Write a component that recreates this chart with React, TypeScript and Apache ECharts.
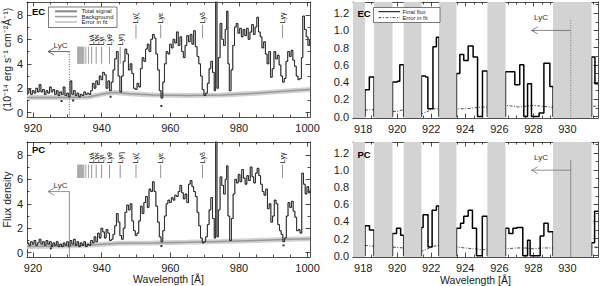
import React, { useEffect, useRef } from "react";
import * as echarts from "echarts";

const FONT = "Liberation Sans, Arial, Helvetica, sans-serif";
const TEXT = "#1a1a1a";
const AXIS = "#222";

// ---------- Left panels: full spectra (wavelength Å, flux) ----------
const ecSpectrum: [number, number][] = [
  [918.3, 1.6], [918.8, 1.9], [919.3, 1.5], [919.8, 1.8], [920.3, 1.6], [920.8, 2.0], [921.3, 1.7], [921.8, 2.3],
  [922.3, 1.7], [922.8, 1.9], [923.3, 1.5], [923.8, 1.8], [924.3, 1.6], [924.8, 2.1], [925.3, 1.7], [925.8, 1.9],
  [926.3, 1.5], [926.8, 1.8], [927.3, 1.4], [927.8, 1.7], [928.3, 1.5], [928.8, 2.1], [929.3, 1.4], [929.8, 1.6],
  [930.3, 1.3], [930.8, 2.6], [931.3, 1.5], [931.8, 1.8], [932.3, 1.4], [932.8, 1.6], [933.3, 1.3], [933.8, 1.5],
  [934.3, 1.4], [934.8, 1.7], [935.3, 1.5], [935.8, 1.6], [936.3, 1.5], [936.8, 1.8], [937.3, 2.4], [937.8, 2.0],
  [938.3, 2.6], [938.8, 2.3], [939.3, 3.0], [939.8, 2.7], [940.3, 3.3], [940.8, 3.1], [941.3, 2.0], [941.8, 2.6],
  [942.3, 1.8], [942.8, 2.5], [943.3, 3.5], [943.8, 4.4], [944.3, 5.0], [944.8, 3.0], [945.3, 1.7], [945.8, 3.0],
  [946.3, 4.2], [946.8, 5.2], [947.3, 4.8], [947.8, 3.5], [948.3, 4.0], [948.8, 3.2], [949.3, 2.0], [949.8, 1.9],
  [950.3, 2.4], [950.8, 2.1], [951.3, 3.6], [951.8, 4.5], [952.3, 4.2], [952.8, 5.2], [953.3, 5.6], [953.8, 5.0],
  [954.3, 6.0], [954.8, 6.4], [955.3, 6.1], [955.8, 4.8], [956.3, 3.5], [956.8, 1.8], [957.3, 1.2], [957.8, 2.5],
  [958.3, 4.0], [958.8, 5.0], [959.3, 4.8], [959.8, 5.6], [960.3, 5.3], [960.8, 6.0], [961.3, 5.7], [961.8, 6.6],
  [962.3, 5.5], [962.8, 6.2], [963.3, 5.0], [963.8, 4.5], [964.3, 5.5], [964.8, 6.3], [965.3, 5.8], [965.8, 6.4],
  [966.3, 5.6], [966.8, 6.7], [967.3, 5.4], [967.8, 4.6], [968.3, 4.0], [968.8, 3.0], [969.3, 1.9], [969.8, 1.4],
  [970.3, 1.6], [970.8, 2.4], [971.3, 3.6], [971.8, 4.2], [972.3, 3.3], [972.8, 1.8], [973.2, 9.6], [973.6, 2.0],
  [974.0, 4.5], [974.5, 7.3], [975.0, 6.0], [975.5, 5.5], [976.0, 6.8], [976.4, 8.3], [976.8, 4.0], [977.2, 1.8],
  [977.7, 3.5], [978.2, 5.5], [978.7, 7.0], [979.2, 7.3], [979.7, 6.5], [980.2, 6.9], [980.7, 6.2], [981.2, 6.8],
  [981.7, 6.3], [982.2, 6.9], [982.7, 6.0], [983.2, 6.6], [983.7, 7.2], [984.2, 6.4], [984.7, 7.0], [985.2, 7.8],
  [985.7, 6.6], [986.2, 6.2], [986.7, 5.3], [987.2, 5.8], [987.7, 4.8], [988.2, 4.0], [988.7, 5.0], [989.2, 2.9],
  [989.7, 3.6], [990.2, 5.0], [990.7, 4.4], [991.2, 4.7], [991.7, 3.9], [992.2, 3.0], [992.7, 2.5], [993.2, 2.8],
  [993.7, 4.2], [994.2, 5.0], [994.7, 4.6], [995.2, 5.1], [995.7, 4.3], [996.2, 3.8], [996.7, 3.0], [997.2, 2.7],
  [997.7, 2.8], [998.2, 4.5], [998.6, 7.9], [999.1, 6.8], [999.6, 6.2], [1000.1, 5.5], [1000.6, 6.0], [1000.8, 6.0],
];

const pcSpectrum: [number, number][] = [
  [918.3, 0.8], [918.8, 0.6], [919.3, 0.9], [919.8, 0.7], [920.3, 1.0], [920.8, 0.6], [921.3, 0.8], [921.8, 1.1],
  [922.3, 0.7], [922.8, 0.9], [923.3, 0.6], [923.8, 1.0], [924.3, 0.7], [924.8, 0.9], [925.3, 0.5], [925.8, 0.8],
  [926.3, 0.6], [926.8, 0.9], [927.3, 0.5], [927.8, 0.7], [928.3, 0.5], [928.8, 0.8], [929.3, 0.6], [929.8, 0.9],
  [930.3, 0.5], [930.8, 1.0], [931.3, 0.7], [931.8, 1.1], [932.3, 0.6], [932.8, 0.9], [933.3, 0.5], [933.8, 0.8],
  [934.3, 0.6], [934.8, 0.9], [935.3, 0.5], [935.8, 0.7], [936.3, 0.6], [936.8, 1.0], [937.3, 0.8], [937.8, 1.3],
  [938.3, 0.9], [938.8, 1.6], [939.3, 1.2], [939.8, 2.0], [940.3, 1.7], [940.8, 1.2], [941.3, 1.9], [941.8, 1.6],
  [942.3, 1.0], [942.8, 1.1], [943.3, 1.5], [943.8, 2.2], [944.3, 3.2], [944.8, 2.5], [945.3, 1.4], [945.8, 1.1],
  [946.3, 2.0], [946.8, 3.3], [947.3, 3.9], [947.8, 3.5], [948.3, 4.0], [948.8, 2.6], [949.3, 1.8], [949.8, 1.4],
  [950.3, 1.6], [950.8, 2.6], [951.3, 3.8], [951.8, 3.2], [952.3, 4.1], [952.8, 4.6], [953.3, 3.7], [953.8, 5.2],
  [954.3, 5.0], [954.8, 5.8], [955.3, 5.0], [955.8, 3.8], [956.3, 2.5], [956.8, 1.3], [957.3, 0.9], [957.8, 1.8],
  [958.3, 3.0], [958.8, 4.0], [959.3, 4.3], [959.8, 4.1], [960.3, 4.5], [960.8, 4.3], [961.3, 4.7], [961.8, 4.6],
  [962.3, 5.0], [962.8, 5.5], [963.3, 4.9], [963.8, 4.4], [964.3, 4.8], [964.8, 4.1], [965.3, 5.6], [965.8, 5.9],
  [966.3, 5.4], [966.8, 5.0], [967.3, 4.6], [967.8, 3.3], [968.3, 2.2], [968.8, 1.2], [969.3, 0.8], [969.8, 0.9],
  [970.3, 1.3], [970.8, 2.3], [971.3, 3.5], [971.8, 4.5], [972.3, 2.8], [972.8, 1.2], [973.2, 9.6], [973.6, 1.3],
  [974.0, 3.5], [974.5, 6.2], [975.0, 5.5], [975.5, 4.8], [976.0, 6.0], [976.4, 7.1], [976.8, 3.0], [977.3, 1.0],
  [977.8, 2.8], [978.3, 4.8], [978.8, 6.0], [979.3, 5.7], [979.8, 6.4], [980.3, 5.8], [980.8, 6.8], [981.3, 6.1],
  [981.8, 5.6], [982.3, 6.3], [982.8, 5.9], [983.3, 7.0], [983.8, 6.2], [984.3, 5.7], [984.8, 6.5], [985.3, 6.9],
  [985.8, 6.3], [986.3, 5.6], [986.8, 5.0], [987.3, 4.7], [987.8, 5.2], [988.3, 3.6], [988.8, 4.0], [989.3, 2.5],
  [989.8, 3.0], [990.3, 4.3], [990.8, 4.0], [991.3, 2.3], [991.8, 1.8], [992.3, 1.5], [992.8, 0.9], [993.3, 1.2],
  [993.8, 3.0], [994.3, 4.1], [994.8, 3.7], [995.3, 4.2], [995.8, 3.4], [996.3, 2.9], [996.8, 1.8], [997.3, 1.9],
  [997.8, 1.6], [998.3, 6.5], [998.8, 5.6], [999.3, 4.8], [999.8, 5.4], [1000.3, 4.9], [1000.8, 5.2],
];

const ecBackground: [number, number][] = [
  [918.25, 1.25], [930, 1.25], [936, 1.28], [939, 1.45], [942, 1.62], [944, 1.65], [948, 1.55],
  [955, 1.45], [965, 1.4], [975, 1.45], [985, 1.6], [993, 1.75], [1000.7, 1.9],
];
const pcBackground: [number, number][] = [
  [918.25, 0.5], [930, 0.55], [938, 0.65], [945, 0.78], [955, 0.8], [965, 0.85], [975, 0.92],
  [985, 1.0], [995, 1.1], [1000.7, 1.15],
];
const ecMarks: [number, number][] = [[928.3, 0.95], [931.7, 1.0], [942.6, 1.3], [957.4, 0.55]];
const pcMarks: [number, number][] = [[925.2, 0.35], [957.4, 0.55], [993.0, 0.6]];

// Lyman series markers (redshifted)
const lymanWave = [937.1, 938.4, 940.0, 942.3, 945.4, 950.0, 957.2, 969.4, 992.7];
const lymanLabel = ["Lyλ", "Lyκ", "Lyι", "Lyθ", "Lyη", "Lyζ", "Lyε", "Lyδ", "Lyγ"];
const ecLymanBase = [4.0, 4.0, 4.0, 4.0, 4.0, 6.1, 6.1, 6.1, 6.1];
const ecLymanTop = [5.4, 5.4, 5.4, 5.4, 5.4, 7.2, 7.2, 7.2, 7.2];
const pcLymanBase = [6.1, 6.1, 6.1, 6.1, 6.1, 6.1, 6.1, 6.1, 6.1];
const pcLymanTop = [7.2, 7.2, 7.2, 7.2, 7.2, 7.2, 7.2, 7.2, 7.2];
const lymanHigher = [934.8, 935.4, 936.2];
const lymanEdge = [933.0, 933.15, 933.3, 933.45, 933.6, 933.75, 933.9, 934.05, 934.2, 934.35, 934.5];
const ecEdgeRange = [4.0, 5.4];
const pcEdgeRange = [6.1, 7.2];

// ---------- Right panels: LyC region ----------
const bandStart = [917.4, 918.64, 920.38, 922.46, 925.3, 929.16];
const bandEnd = [918.1, 919.72, 921.42, 923.48, 926.36, 931.42];

const ecFinalFlux: [number, number][] = [
  [917.4, 0], [918.1, 0.31], [918.36, 0.46], [918.64, 0], [919.72, 0.4], [920.0, 0.41], [920.15, 0.6],
  [920.38, 0], [921.42, 0.47], [921.67, 0.46], [921.8, 0.09], [922.1, 0.81], [922.3, 0.92], [922.46, 0],
  [923.48, 0.5], [923.68, 0.72], [923.91, 0.65], [924.17, 0.82], [924.46, 0.69], [924.72, 0.0], [925.01, 0.53],
  [925.3, 0], [926.36, 0.52], [926.91, 0.37], [927.2, 0.6], [927.44, 0.0], [927.66, 0.38], [927.89, 0.0],
  [928.34, 0.04], [928.62, 0.62], [928.97, 0.35], [929.16, 0], [931.42, 0.69], [931.62, 0.38], [931.8, 0.38],
];
const pcFinalFlux: [number, number][] = [
  [917.4, 0], [918.1, 0.35], [918.37, 0.3], [918.64, 0], [919.72, 0.26], [919.96, 0.32], [920.2, 0.24],
  [920.38, 0], [921.42, 0.33], [921.52, 0.48], [921.81, 0.1], [922.05, 0.53], [922.3, 0.58], [922.46, 0],
  [923.48, 0.32], [923.72, 0.38], [923.91, 0.46], [924.17, 0.53], [924.42, 0.32], [924.66, 0.0], [925.0, 0.46],
  [925.3, 0], [926.36, 0.32], [926.56, 0.26], [926.8, 0.32], [927.03, 0.33], [927.38, 0.0], [927.66, 0.18],
  [927.81, 0.0], [928.4, 0.23], [928.62, 0.38], [928.87, 0.28], [929.16, 0], [931.42, 0.15], [931.6, 0.52], [931.8, 0.52],
];
const ecFitError: [number, number][] = [
  [918.1, 0.075], [918.64, 0.08], [919.72, 0.06], [920.0, 0.06], [920.38, 0.08], [921.42, 0.03], [921.8, 0.06],
  [922.0, 0.09], [922.46, 0.09], [923.48, 0.09], [924.0, 0.09], [924.5, 0.1], [925.0, 0.11], [925.3, 0.11],
  [926.36, 0.13], [926.8, 0.12], [927.2, 0.11], [927.6, 0.12], [928.0, 0.13], [928.5, 0.12], [929.0, 0.11],
  [929.16, 0.11], [931.42, 0.12], [931.8, 0.12],
];
const pcFitError: [number, number][] = [
  [918.1, 0.12], [918.64, 0.11], [919.72, 0.1], [920.38, 0.09], [921.42, 0.05], [921.8, 0.08], [922.1, 0.11],
  [922.46, 0.12], [923.48, 0.1], [924.0, 0.09], [924.5, 0.08], [925.0, 0.07], [925.3, 0.07], [926.36, 0.08],
  [927.0, 0.09], [927.5, 0.09], [928.0, 0.08], [928.5, 0.09], [929.16, 0.09], [931.42, 0.1], [931.8, 0.1],
];

// LyC annotations: [vertical x, vertical top, arrow y, arrow end x, text x, text y]
const leftLyC = [930.6, 5.0, 5.0, 924.4, 928.0, 5.5];
const rightLyC = [930.2, 1.12, 1.0, 927.9, 928.45, 1.15];

// ---------- Axes ticks ----------
const leftRange = { xmin: 918.25, xmax: 1000.7, ymin: -0.35, ymax: 9.05 };
const rightRange = { xmin: 917.4, xmax: 931.8, ymin: -0.017, ymax: 1.33 };
const leftXTicks = [920, 940, 960, 980, 1000];
const leftXMinor = [925, 930, 935, 945, 950, 955, 965, 970, 975, 985, 990, 995];
const leftYTicks = [0, 2, 4, 6, 8];
const leftYMinor = [1, 3, 5, 7, 9];
const rightXTicks = [918, 920, 922, 924, 926, 928, 930];
const rightXMinor = [917.5, 918.5, 919, 919.5, 920.5, 921, 921.5, 922.5, 923, 923.5, 924.5, 925, 925.5,
  926.5, 927, 927.5, 928.5, 929, 929.5, 930.5, 931, 931.5];
const rightYTicks = [0, 0.2, 0.4, 0.6, 0.8, 1.0, 1.2];
const rightYMinor = [0.1, 0.3, 0.5, 0.7, 0.9, 1.1, 1.3];

function makeAxes(dim: "x" | "y", grid: number, min: number, max: number, major: number[], minor: number[],
  fmt: (v: number) => string, name: string, nameGap: number) {
  const mainPos = dim === "x" ? "bottom" : "left";
  const mirPos = dim === "x" ? "top" : "right";
  const lineStyle = { color: AXIS, width: 0.8 };
  const base: any = {
    type: "value", gridIndex: grid, min, max, splitLine: { show: false },
    minorTick: { show: false }, minorSplitLine: { show: false },
  };
  return [
    {
      ...base, position: mainPos,
      axisLine: { show: true, onZero: false, lineStyle },
      axisTick: { show: true, inside: true, length: 4.5, customValues: major, lineStyle },
      axisLabel: { show: true, customValues: major, formatter: fmt, fontSize: 11, color: TEXT, fontFamily: FONT, margin: dim === "x" ? 5 : 4 },
      name, nameLocation: "middle", nameGap,
      nameTextStyle: { fontSize: 10.5, color: TEXT, fontFamily: FONT },
    },
    {
      ...base, position: mainPos,
      axisLine: { show: false, onZero: false },
      axisTick: { show: true, inside: true, length: 2.5, customValues: minor, lineStyle },
      axisLabel: { show: false },
    },
    {
      ...base, position: mirPos,
      axisLine: { show: true, onZero: false, lineStyle },
      axisTick: { show: true, inside: true, length: 4.5, customValues: major, lineStyle },
      axisLabel: { show: false },
    },
    {
      ...base, position: mirPos,
      axisLine: { show: false, onZero: false },
      axisTick: { show: true, inside: true, length: 2.5, customValues: minor, lineStyle },
      axisLabel: { show: false },
    },
  ];
}

function lymanSeries(g: number, base: number[], top: number[], edgeRange: number[]) {
  const items: any[] = [];
  lymanEdge.forEach((w) => items.push({ w, b: edgeRange[0], t: edgeRange[1], label: "", color: "#aaa", width: 1.1 }));
  lymanHigher.forEach((w) => items.push({ w, b: edgeRange[0], t: edgeRange[1], label: "", color: "#888", width: 0.8 }));
  lymanWave.forEach((w, i) => items.push({ w, b: base[i], t: top[i], label: lymanLabel[i], color: "#777", width: 0.8 }));
  return {
    type: "custom", xAxisIndex: g * 4, yAxisIndex: g * 4, z: 6, silent: true, clip: true,
    data: items.map((it) => [it.w, it.b, it.t]),
    renderItem: (params: any, api: any) => {
      const it = items[params.dataIndex];
      const p0 = api.coord([it.w, it.b]);
      const p1 = api.coord([it.w, it.t]);
      const children: any[] = [
        { type: "line", shape: { x1: p0[0], y1: p0[1], x2: p1[0], y2: p1[1] }, style: { stroke: it.color, lineWidth: it.width } },
      ];
      if (it.label) {
        children.push({
          type: "text", x: p1[0], y: p1[1] - 1.5, rotation: Math.PI / 2,
          style: { text: it.label, fontSize: 7, fontFamily: FONT, fill: "#111", align: "left", verticalAlign: "middle" },
        });
      }
      return { type: "group", children };
    },
  };
}

function lycSeries(g: number, ann: number[], ymin: number, dotted: boolean, color: string) {
  return {
    type: "custom", xAxisIndex: g * 4, yAxisIndex: g * 4, z: 7, silent: true, clip: true,
    data: [[ann[0], ann[1]]],
    renderItem: (_p: any, api: any) => {
      const top = api.coord([ann[0], ann[1]]);
      const bot = api.coord([ann[0], ymin]);
      const a0 = api.coord([ann[0], ann[2]]);
      const a1 = api.coord([ann[3], ann[2]]);
      const t = api.coord([ann[4], ann[5]]);
      return {
        type: "group",
        children: [
          { type: "line", shape: { x1: top[0], y1: top[1], x2: bot[0], y2: bot[1] }, style: { stroke: color, lineWidth: 0.8, lineDash: dotted ? [1, 1.5] : null } },
          { type: "line", shape: { x1: a0[0], y1: a0[1], x2: a1[0], y2: a1[1] }, style: { stroke: color, lineWidth: 0.8 } },
          { type: "polyline", shape: { points: [[a1[0] + 6, a1[1] - 3.5], [a1[0], a1[1]], [a1[0] + 6, a1[1] + 3.5]] }, style: { stroke: color, fill: "none", lineWidth: 0.8 } },
          { type: "text", x: t[0], y: t[1], style: { text: "LyC", fontSize: 8, fontFamily: FONT, fill: "#333", align: "center", verticalAlign: "middle" } },
        ],
      };
    },
  };
}

function bandSeries(g: number) {
  return {
    type: "custom", xAxisIndex: g * 4, yAxisIndex: g * 4, z: 5, silent: true, clip: true,
    data: bandStart.map((s, i) => [s, bandEnd[i]]),
    renderItem: (_p: any, api: any) => {
      const p0 = api.coord([api.value(0), rightRange.ymax]);
      const p1 = api.coord([api.value(1), rightRange.ymin]);
      return { type: "rect", shape: { x: p0[0], y: p0[1], width: p1[0] - p0[0], height: p1[1] - p0[1] }, style: { fill: "#d3d3d3" } };
    },
  };
}

function leftSeries(g: number, spec: [number, number][], bg: [number, number][], marks: [number, number][]) {
  const xi = g * 4, yi = g * 4;
  return [
    { type: "line", name: "Error in fit", xAxisIndex: xi, yAxisIndex: yi, data: bg, symbol: "none", z: 1, lineStyle: { color: "#d2d2d2", width: 5 }, silent: true },
    { type: "line", name: "Background", xAxisIndex: xi, yAxisIndex: yi, data: bg, symbol: "none", z: 2, lineStyle: { color: "#999", width: 1.5 }, silent: true },
    { type: "line", name: "Total signal", xAxisIndex: xi, yAxisIndex: yi, data: spec, step: "end", symbol: "none", z: 3, lineStyle: { color: "#777", width: 1.0 }, silent: true },
    { type: "line", name: "Data", xAxisIndex: xi, yAxisIndex: yi, data: spec, step: "end", symbol: "none", z: 4, lineStyle: { color: "#000", width: 0.65 }, silent: true },
    { type: "scatter", xAxisIndex: xi, yAxisIndex: yi, data: marks, symbol: "rect", symbolSize: 2, itemStyle: { color: "#000" }, z: 4, silent: true },
  ];
}

function rightSeries(g: number, flux: [number, number][], err: [number, number][]) {
  const xi = g * 4, yi = g * 4;
  return [
    { type: "line", name: "Final flux", xAxisIndex: xi, yAxisIndex: yi, data: flux, step: "end", symbol: "none", z: 3, lineStyle: { color: "#000", width: 1.5 }, silent: true },
    { type: "line", name: "Error in fit", xAxisIndex: xi, yAxisIndex: yi, data: err, symbol: "none", z: 3, lineStyle: { color: "#000", width: 0.7, type: [3, 1.5, 1, 1.5] }, silent: true },
    bandSeries(g),
  ];
}

function legendGraphic() {
  const t = (x: number, y: number, s: string, size: number) => ({
    type: "text", x, y, style: { text: s, fontSize: size, fontFamily: FONT, fill: "#222", verticalAlign: "middle" },
  });
  const l = (x1: number, x2: number, y: number, color: string, width: number, dash?: number[]) => ({
    type: "line", shape: { x1, y1: y, x2, y2: y }, style: { stroke: color, lineWidth: width, lineDash: dash || null },
  });
  const bold = (x: number, y: number, s: string) => ({
    type: "text", x, y, style: { text: s, fontSize: 9.5, fontWeight: "bold", fontFamily: FONT, fill: "#000", verticalAlign: "middle" },
  });
  return [
    { type: "rect", shape: { x: 48.5, y: 7, width: 68.5, height: 20.5 }, style: { fill: "#fff", stroke: "#444", lineWidth: 0.7 }, z: 10 },
    { ...l(55, 77, 11.3, "#888", 2), z: 11 },
    { ...l(55, 77, 16.6, "#9c9c9c", 1.6), z: 11 },
    { ...l(55, 77, 22, "#cfcfcf", 2), z: 11 },
    { ...t(81.5, 11.3, "Total signal", 6), z: 11 },
    { ...t(81.5, 16.6, "Background", 6), z: 11 },
    { ...t(81.5, 22, "Error in fit", 6), z: 11 },
    { type: "rect", shape: { x: 373.5, y: 7.5, width: 66.5, height: 15 }, style: { fill: "#fff", stroke: "#444", lineWidth: 0.7 }, z: 10 },
    { ...l(378.5, 400, 11.7, "#000", 1), z: 11 },
    { ...l(378.5, 400, 17.6, "#000", 0.7, [3, 1.5, 1, 1.5]), z: 11 },
    { ...t(402.5, 11.7, "Final flux", 5.8), z: 11 },
    { ...t(402.5, 17.6, "Error in fit", 5.8), z: 11 },
    { ...bold(32, 11, "EC"), z: 11 },
    { ...bold(357.5, 13.5, "EC"), z: 11 },
    { ...bold(32, 149, "PC"), z: 11 },
    { ...bold(357.5, 154, "PC"), z: 11 },
  ];
}

export default function App() {
  const ref = useRef<HTMLDivElement>(null);
  useEffect(() => {
    if (!ref.current) return;
    const chart = echarts.init(ref.current, undefined, { renderer: "svg" });
    const f0 = (v: number) => String(Math.round(v));
    const f1 = (v: number) => v.toFixed(1);
    const L = leftRange, R = rightRange;
    const xAxis = [
      ...makeAxes("x", 0, L.xmin, L.xmax, leftXTicks, leftXMinor, f0, "", 0),
      ...makeAxes("x", 1, L.xmin, L.xmax, leftXTicks, leftXMinor, f0, "Wavelength [Å]", 16),
      ...makeAxes("x", 2, R.xmin, R.xmax, rightXTicks, rightXMinor, f0, "", 0),
      ...makeAxes("x", 3, R.xmin, R.xmax, rightXTicks, rightXMinor, f0, "Wavelength [Å]", 16),
    ];
    const yAxis = [
      ...makeAxes("y", 0, L.ymin, L.ymax, leftYTicks, leftYMinor, f0, "(10⁻¹⁴ erg s⁻¹ cm⁻²Å⁻¹)", 13),
      ...makeAxes("y", 1, L.ymin, L.ymax, leftYTicks, leftYMinor, f0, "Flux density", 13),
      ...makeAxes("y", 2, R.ymin, R.ymax, rightYTicks, rightYMinor, f1, "", 0),
      ...makeAxes("y", 3, R.ymin, R.ymax, rightYTicks, rightYMinor, f1, "", 0),
    ];
    const option: any = {
      animation: false,
      backgroundColor: "#fff",
      grid: [
        { left: 27, top: 2, width: 283, height: 115 },
        { left: 27, top: 142, width: 283, height: 115 },
        { left: 353, top: 2, width: 245, height: 116 },
        { left: 353, top: 142, width: 245, height: 116 },
      ],
      xAxis,
      yAxis,
      series: [
        ...leftSeries(0, ecSpectrum, ecBackground, ecMarks),
        ...leftSeries(1, pcSpectrum, pcBackground, pcMarks),
        lymanSeries(0, ecLymanBase, ecLymanTop, ecEdgeRange),
        lymanSeries(1, pcLymanBase, pcLymanTop, pcEdgeRange),
        lycSeries(0, leftLyC, L.ymin, true, "#444"),
        lycSeries(1, leftLyC, L.ymin, false, "#777"),
        ...rightSeries(2, ecFinalFlux, ecFitError),
        ...rightSeries(3, pcFinalFlux, pcFitError),
        lycSeries(2, rightLyC, R.ymin, true, "#666"),
        lycSeries(3, rightLyC, R.ymin, false, "#777"),
      ],
      graphic: legendGraphic(),
    };
    chart.setOption(option);
    return () => chart.dispose();
  }, []);
  return <div ref={ref} style={{ position: "fixed", left: 0, top: 0, width: 600, height: 286, background: "#fff" }} />;
}
